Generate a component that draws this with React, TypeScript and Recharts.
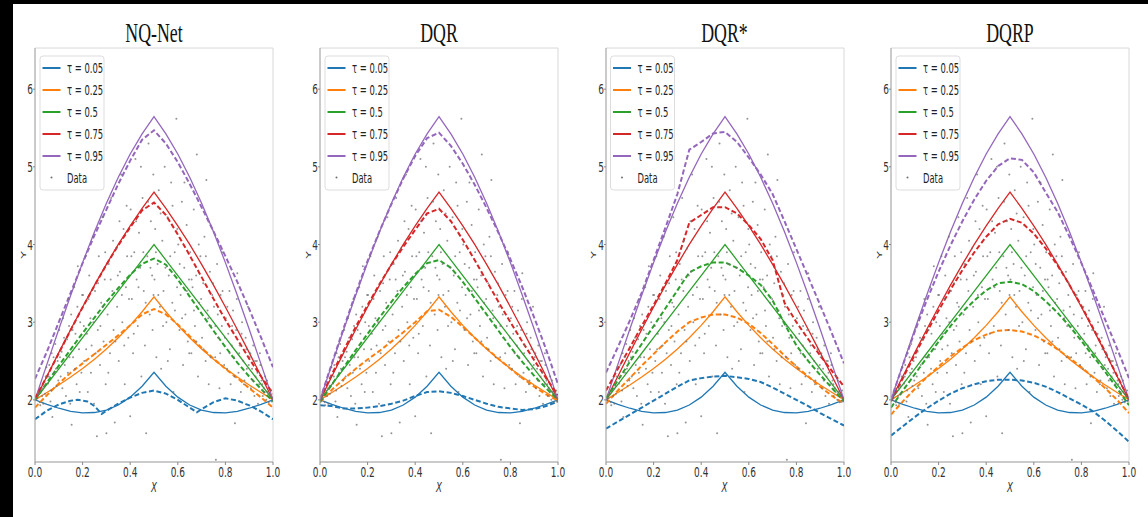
import React from 'react';
import { ComposedChart, Line, Scatter, XAxis, YAxis, ReferenceArea } from 'recharts';

// ---------------- data ----------------
const xGrid = [0, 0.05, 0.1, 0.15, 0.2, 0.25, 0.3, 0.35, 0.4, 0.45, 0.5, 0.55, 0.6, 0.65, 0.7, 0.75, 0.8, 0.85, 0.9, 0.95, 1];
const xTicks = [0, 0.2, 0.4, 0.6, 0.8, 1];
const yTicks = [2, 3, 4, 5, 6];
const titles = ['NQ-Net', 'DQR', 'DQR*', 'DQRP'];
const legendLabels = ['τ = 0.05', 'τ = 0.25', 'τ = 0.5', 'τ = 0.75', 'τ = 0.95'];
const colors = ['#1f77b4', '#ff7f0e', '#2ca02c', '#d62728', '#9467bd'];

// true quantile curves (solid)
const trueQ05 = [2.0, 1.943, 1.892, 1.853, 1.833, 1.837, 1.869, 1.934, 2.035, 2.175, 2.355, 2.175, 2.035, 1.934, 1.869, 1.837, 1.833, 1.853, 1.892, 1.943, 2.0];
const trueQ25 = [2.0, 2.095, 2.192, 2.294, 2.404, 2.523, 2.655, 2.799, 2.959, 3.134, 3.326, 3.134, 2.959, 2.799, 2.655, 2.523, 2.404, 2.294, 2.192, 2.095, 2.0];
const trueQ50 = [2.0, 2.2, 2.4, 2.6, 2.8, 3.0, 3.2, 3.4, 3.6, 3.8, 4.0, 3.8, 3.6, 3.4, 3.2, 3.0, 2.8, 2.6, 2.4, 2.2, 2.0];
const trueQ75 = [2.0, 2.305, 2.608, 2.906, 3.196, 3.477, 3.745, 4.001, 4.241, 4.466, 4.674, 4.466, 4.241, 4.001, 3.745, 3.477, 3.196, 2.906, 2.608, 2.305, 2.0];
const trueQ95 = [2.0, 2.457, 2.908, 3.347, 3.767, 4.163, 4.531, 4.866, 5.165, 5.425, 5.645, 5.425, 5.165, 4.866, 4.531, 4.163, 3.767, 3.347, 2.908, 2.457, 2.0];

// NQ-Net estimates (dashed)
const nqQ05X = [0, 0.05, 0.1, 0.15, 0.18, 0.22, 0.25, 0.28, 0.3, 0.35, 0.4, 0.45, 0.5, 0.55, 0.6, 0.65, 0.68, 0.7, 0.75, 0.8, 0.85, 0.9, 0.95, 1];
const nqQ05 = [1.75, 1.86, 1.94, 1.99, 2.0, 1.98, 1.92, 1.82, 1.86, 1.95, 2.03, 2.09, 2.12, 2.08, 2.0, 1.9, 1.84, 1.88, 1.97, 2.02, 1.99, 1.93, 1.85, 1.75];
const nqQ25 = [1.9, 2.06, 2.21, 2.35, 2.47, 2.59, 2.71, 2.83, 2.96, 3.1, 3.17, 3.1, 2.97, 2.82, 2.67, 2.53, 2.4, 2.28, 2.15, 2.03, 1.9];
const nqQ50 = [2.0, 2.22, 2.44, 2.65, 2.86, 3.06, 3.26, 3.44, 3.61, 3.75, 3.82, 3.74, 3.55, 3.33, 3.11, 2.89, 2.68, 2.48, 2.3, 2.14, 1.98];
const nqQ75 = [2.02, 2.3, 2.6, 2.9, 3.19, 3.47, 3.74, 3.99, 4.22, 4.44, 4.54, 4.38, 4.13, 3.86, 3.58, 3.3, 3.03, 2.78, 2.53, 2.3, 2.08];
const nqQ95 = [2.27, 2.62, 3.0, 3.38, 3.76, 4.12, 4.45, 4.78, 5.08, 5.35, 5.47, 5.3, 5.06, 4.78, 4.48, 4.17, 3.85, 3.52, 3.17, 2.8, 2.42];

// DQR estimates
const dqrQ05 = [1.93, 1.92, 1.89, 1.89, 1.9, 1.92, 1.95, 1.99, 2.05, 2.1, 2.11, 2.09, 2.05, 2.0, 1.95, 1.91, 1.89, 1.87, 1.88, 1.92, 1.98];
const dqrQ25 = [1.97, 2.13, 2.27, 2.4, 2.52, 2.63, 2.75, 2.87, 3.0, 3.14, 3.16, 3.07, 2.94, 2.8, 2.66, 2.53, 2.4, 2.28, 2.17, 2.07, 1.99];
const dqrQ50 = [1.97, 2.2, 2.42, 2.64, 2.85, 3.06, 3.26, 3.45, 3.62, 3.76, 3.8, 3.7, 3.52, 3.31, 3.1, 2.89, 2.68, 2.49, 2.31, 2.15, 2.0];
const dqrQ75 = [2.0, 2.33, 2.64, 2.94, 3.22, 3.49, 3.74, 3.97, 4.19, 4.4, 4.46, 4.3, 4.06, 3.8, 3.53, 3.26, 3.0, 2.75, 2.51, 2.28, 2.06];
const dqrQ95 = [2.0, 2.47, 2.93, 3.37, 3.79, 4.17, 4.52, 4.85, 5.14, 5.37, 5.44, 5.27, 5.04, 4.77, 4.47, 4.15, 3.81, 3.45, 3.06, 2.65, 2.2];

// DQR* estimates
const dqrsQ05 = [1.63, 1.72, 1.81, 1.9, 1.99, 2.08, 2.17, 2.25, 2.28, 2.3, 2.31, 2.29, 2.27, 2.23, 2.16, 2.08, 2.0, 1.92, 1.83, 1.75, 1.67];
const dqrsQ25 = [1.95, 2.12, 2.28, 2.44, 2.59, 2.74, 2.88, 3.0, 3.06, 3.1, 3.1, 3.06, 2.98, 2.86, 2.72, 2.57, 2.43, 2.3, 2.17, 2.05, 1.95];
const dqrsQ50 = [2.02, 2.25, 2.49, 2.72, 2.95, 3.18, 3.41, 3.64, 3.72, 3.77, 3.77, 3.7, 3.6, 3.48, 3.28, 2.98, 2.7, 2.5, 2.32, 2.15, 1.98];
const dqrsQ75 = [2.12, 2.4, 2.67, 2.95, 3.22, 3.5, 3.8, 4.28, 4.38, 4.48, 4.48, 4.4, 4.25, 4.07, 3.8, 3.25, 3.0, 2.78, 2.57, 2.37, 2.17];
const dqrsQ95 = [2.35, 2.68, 3.02, 3.38, 3.8, 4.22, 4.65, 5.22, 5.32, 5.43, 5.45, 5.32, 5.12, 4.9, 4.65, 4.3, 3.94, 3.58, 3.22, 2.85, 2.47];

// DQRP estimates
const dqrpQ05 = [1.54, 1.66, 1.78, 1.89, 1.99, 2.08, 2.15, 2.2, 2.24, 2.26, 2.26, 2.25, 2.22, 2.17, 2.1, 2.02, 1.94, 1.85, 1.73, 1.6, 1.46];
const dqrpQ25 = [1.81, 1.98, 2.14, 2.29, 2.43, 2.56, 2.67, 2.77, 2.84, 2.89, 2.9, 2.88, 2.83, 2.75, 2.65, 2.54, 2.42, 2.29, 2.15, 2.0, 1.83];
const dqrpQ50 = [1.9, 2.12, 2.33, 2.54, 2.75, 2.95, 3.13, 3.28, 3.41, 3.5, 3.52, 3.49, 3.4, 3.27, 3.12, 2.95, 2.76, 2.56, 2.36, 2.15, 1.93];
const dqrpQ75 = [1.98, 2.28, 2.58, 2.87, 3.15, 3.42, 3.67, 3.9, 4.1, 4.26, 4.33, 4.28, 4.14, 3.95, 3.73, 3.48, 3.21, 2.92, 2.62, 2.31, 2.0];
const dqrpQ95 = [2.0, 2.45, 2.88, 3.28, 3.65, 3.99, 4.3, 4.58, 4.82, 5.01, 5.11, 5.09, 4.93, 4.67, 4.42, 4.1, 3.76, 3.4, 3.03, 2.66, 2.28];

// observed data (scatter)
const dataX = [
  0.01, 0.02, 0.025, 0.03, 0.04, 0.045, 0.015, 0.035, 0.048,
  0.055, 0.06, 0.065, 0.07, 0.073, 0.08, 0.085, 0.09, 0.095,
  0.102, 0.108, 0.112, 0.118, 0.125, 0.13, 0.135, 0.14, 0.145, 0.148,
  0.152, 0.154, 0.16, 0.165, 0.17, 0.175, 0.18, 0.185, 0.19, 0.195,
  0.202, 0.207, 0.212, 0.218, 0.222, 0.228, 0.233, 0.238, 0.243, 0.248,
  0.252, 0.26, 0.264, 0.268, 0.273, 0.278, 0.283, 0.288, 0.293, 0.297,
  0.3, 0.305, 0.31, 0.315, 0.32, 0.325, 0.33, 0.335, 0.34, 0.345,
  0.352, 0.357, 0.362, 0.367, 0.372, 0.377, 0.382, 0.387, 0.392, 0.4,
  0.402, 0.407, 0.412, 0.417, 0.422, 0.427, 0.432, 0.437, 0.442, 0.447,
  0.452, 0.457, 0.462, 0.467, 0.472, 0.477, 0.482, 0.487, 0.492, 0.497, 0.494,
  0.502, 0.505, 0.51, 0.515, 0.52, 0.525, 0.53, 0.535, 0.54, 0.545,
  0.552, 0.557, 0.562, 0.567, 0.572, 0.577, 0.582, 0.587, 0.594, 0.597,
  0.602, 0.607, 0.612, 0.617, 0.622, 0.627, 0.632, 0.637, 0.642, 0.647,
  0.652, 0.657, 0.662, 0.667, 0.672, 0.677, 0.68, 0.685, 0.69, 0.695,
  0.702, 0.707, 0.712, 0.717, 0.72, 0.725, 0.73, 0.735, 0.74, 0.745,
  0.752, 0.757, 0.76, 0.765, 0.77, 0.775, 0.78, 0.785, 0.79, 0.795,
  0.802, 0.807, 0.812, 0.817, 0.822, 0.827, 0.832, 0.837, 0.84, 0.845,
  0.85, 0.855, 0.86, 0.865, 0.87, 0.875, 0.88, 0.885, 0.89, 0.895,
  0.902, 0.907, 0.912, 0.917, 0.922, 0.927, 0.932, 0.937, 0.942, 0.947,
  0.952, 0.957, 0.962, 0.967, 0.972, 0.977, 0.982, 0.987, 0.992, 0.997,
  0.005, 0.012, 0.022, 0.033, 0.042, 0.058, 0.068, 0.078, 0.088, 0.098,
  0.105, 0.115, 0.122, 0.138, 0.143, 0.158, 0.168, 0.178, 0.188, 0.198,
  0.205, 0.215, 0.225, 0.235, 0.245, 0.255, 0.265, 0.275, 0.285, 0.295,
  0.308, 0.318, 0.328, 0.338, 0.348, 0.355, 0.365, 0.375, 0.385, 0.395,
  0.405, 0.415, 0.425, 0.435, 0.445, 0.455, 0.465, 0.475, 0.485, 0.498,
  0.508, 0.518, 0.528, 0.538, 0.548, 0.558, 0.568, 0.578, 0.588, 0.598,
  0.608, 0.618, 0.628, 0.638, 0.648, 0.658, 0.668, 0.678, 0.688, 0.698,
  0.708, 0.718, 0.728, 0.738, 0.748, 0.758, 0.768, 0.778, 0.788, 0.798,
  0.808, 0.818, 0.828, 0.838, 0.848, 0.858, 0.868, 0.878, 0.888, 0.898,
  0.905, 0.915, 0.925, 0.935, 0.945, 0.955, 0.965, 0.975, 0.985, 0.995,
];
const dataY = [
  2.02, 1.97, 2.12, 2.05, 2.18, 2.3, 2.08, 1.95, 2.42,
  2.21, 2.45, 1.98, 2.6, 1.78, 2.35, 2.72, 2.18, 2.5,
  2.9, 2.3, 2.62, 3.05, 2.45, 2.05, 2.78, 3.3, 2.55, 1.95,
  3.1, 1.68, 2.55, 3.45, 2.85, 2.2, 3.72, 2.65, 3.0, 2.35,
  3.35, 2.5, 3.85, 2.85, 2.1, 3.6, 3.05, 2.7, 4.1, 1.95,
  3.4, 1.53, 2.9, 3.85, 2.45, 3.25, 4.35, 2.75, 3.55, 2.2,
  1.57, 3.1, 3.75, 2.6, 4.6, 3.4, 2.9, 1.71, 3.95, 3.2,
  2.5, 3.65, 4.9, 3.0, 4.2, 2.2, 3.45, 3.85, 2.8, 1.79,
  4.45, 3.3, 2.6, 3.9, 5.1, 3.55, 2.95, 4.15, 3.7, 2.3,
  4.6, 3.4, 2.7, 1.57, 3.85, 5.3, 3.1, 4.3, 3.6, 4.9, 2.9,
  3.55, 4.2, 2.55, 3.75, 4.7, 3.2, 2.4, 4.05, 3.4, 5.0,
  3.0, 4.35, 3.6, 2.65, 4.8, 3.25, 2.1, 3.9, 5.62, 3.45,
  4.0, 2.9, 3.35, 4.55, 2.45, 3.7, 3.1, 4.25, 2.75, 3.55,
  3.9, 2.6, 3.45, 4.45, 2.95, 3.6, 5.16, 2.3, 3.25, 3.85,
  2.8, 3.5, 4.1, 2.5, 4.83, 3.15, 2.2, 3.65, 2.95, 3.35,
  3.2, 2.55, 1.23, 3.75, 2.8, 2.15, 3.35, 2.95, 3.9, 2.45,
  3.05, 2.4, 2.85, 3.4, 2.2, 2.7, 3.15, 2.55, 1.7, 2.9,
  3.63, 2.35, 2.7, 2.1, 3.0, 2.5, 2.25, 2.8, 2.4, 3.2,
  2.55, 2.15, 2.4, 2.7, 2.05, 2.3, 2.5, 1.95, 2.2, 2.45,
  2.25, 2.05, 2.15, 2.3, 2.0, 2.1, 1.97, 2.05, 2.12, 2.02,
  2.0, 2.06, 1.93, 2.15, 2.08, 2.3, 2.12, 2.55, 2.4, 2.25,
  2.55, 2.15, 2.8, 2.35, 2.95, 2.9, 2.4, 3.2, 2.1, 3.35,
  2.95, 2.65, 3.3, 2.35, 3.0, 2.6, 3.5, 2.95, 3.2, 3.9,
  2.35, 3.55, 4.05, 2.75, 3.6, 4.3, 3.35, 2.7, 4.5, 3.3,
  3.85, 2.85, 4.3, 3.45, 5.0, 3.9, 3.25, 4.55, 3.7, 3.35,
  3.9, 3.35, 4.4, 2.95, 3.7, 2.5, 3.85, 4.5, 3.15, 4.2,
  3.75, 3.05, 4.8, 3.4, 2.6, 3.55, 3.15, 2.75, 4.0, 3.3,
  2.65, 3.85, 3.05, 2.55, 3.5, 2.95, 3.1, 2.6, 3.4, 2.8,
  3.2, 2.6, 2.95, 2.3, 3.3, 2.6, 2.85, 2.2, 2.65, 2.45,
  2.6, 2.25, 2.5, 2.35, 2.6, 2.2, 2.1, 2.25, 2.08, 1.98,
];

// ---------------- helpers ----------------
const toPts = (xs: number[], ys: number[]) => xs.map((x, i) => ({ x, y: ys[i] }));
const scatterPts = toPts(dataX, dataY);
const trueCurves = [trueQ05, trueQ25, trueQ50, trueQ75, trueQ95].map((ys) => toPts(xGrid, ys));

const panelEstimates = [
  [toPts(nqQ05X, nqQ05), toPts(xGrid, nqQ25), toPts(xGrid, nqQ50), toPts(xGrid, nqQ75), toPts(xGrid, nqQ95)],
  [dqrQ05, dqrQ25, dqrQ50, dqrQ75, dqrQ95].map((ys) => toPts(xGrid, ys)),
  [dqrsQ05, dqrsQ25, dqrsQ50, dqrsQ75, dqrsQ95].map((ys) => toPts(xGrid, ys)),
  [dqrpQ05, dqrpQ25, dqrpQ50, dqrpQ75, dqrpQ95].map((ys) => toPts(xGrid, ys)),
];

const plotLefts = [35, 320, 605.5, 891];
const PLOT_W = 238;
const Y_AXIS_W = 30;
const CHART_W = Y_AXIS_W + PLOT_W + 10;
const CHART_H = 517;
const SX = 0.62;

const XTick = (props: any) => {
  const { x, y, payload } = props;
  return (
    <text transform={`translate(${x},${y}) scale(${SX},1)`} textAnchor="middle" dy="0.71em" fontSize={14.5} fontFamily="DejaVu Sans" fill="#333">
      {Number(payload.value).toFixed(1)}
    </text>
  );
};
const YTick = (props: any) => {
  const { x, y, payload } = props;
  return (
    <text transform={`translate(${x},${y}) scale(${SX},1)`} textAnchor="end" dy="0.36em" fontSize={14.5} fontFamily="DejaVu Sans" fill="#333">
      {String(payload.value)}
    </text>
  );
};

const Dot = (p: any) => <circle cx={p.cx} cy={p.cy} r={1} fill="#707070" fillOpacity={0.75} />;

function Panel({ idx }: { idx: number }) {
  const left = plotLefts[idx] - Y_AXIS_W;
  const est = panelEstimates[idx];
  return (
    <div style={{ position: 'absolute', left, top: 0, width: CHART_W, height: CHART_H }}>
      <ComposedChart width={CHART_W} height={CHART_H} margin={{ top: 48, right: 10, bottom: 0, left: 0 }}>
        <XAxis type="number" dataKey="x" domain={[0, 1]} ticks={xTicks} height={55} allowDataOverflow
          axisLine={{ stroke: '#aaa' }} tickLine={{ stroke: '#888' }} tickSize={3} tickMargin={2} tick={<XTick />} interval={0} />
        <YAxis type="number" dataKey="y" domain={[1.2, 6.53]} ticks={yTicks} width={Y_AXIS_W} allowDataOverflow
          axisLine={{ stroke: '#aaa' }} tickLine={{ stroke: '#888' }} tickSize={2} tickMargin={0} tick={<YTick />} interval={0} />
        <ReferenceArea x1={0} x2={1} y1={1.2} y2={6.53} fill="#fff" fillOpacity={0} stroke="#d8d8d8" strokeWidth={1} />
        <Scatter data={scatterPts} shape={<Dot />} isAnimationActive={false} />
        {trueCurves.map((d, i) => (
          <Line key={'t' + i} data={d} dataKey="y" type="linear" stroke={colors[i]} strokeWidth={1.3} dot={false} activeDot={false} isAnimationActive={false} />
        ))}
        {est.map((d, i) => (
          <Line key={'e' + i} data={d} dataKey="y" type="linear" stroke={colors[i]} strokeWidth={2} strokeDasharray="5 2.6" dot={false} activeDot={false} isAnimationActive={false} />
        ))}
      </ComposedChart>
    </div>
  );
}

function Overlay() {
  const rowYs = [68, 90, 112, 134, 156];
  return (
    <svg width={1148} height={517} style={{ position: 'absolute', left: 0, top: 0, pointerEvents: 'none' }}>
      <rect x={0} y={0} width={1148} height={4} fill="#000" />
      <rect x={0} y={0} width={13} height={517} fill="#000" />
      {plotLefts.map((L, i) => (
        <g key={i}>
          <text transform={`translate(${L + PLOT_W / 2},42) scale(0.66,1)`} textAnchor="middle" fontSize={27} fontFamily="Liberation Serif" fill="#111">
            {titles[i]}
          </text>
          <text transform={`translate(${L + PLOT_W / 2},492) scale(${SX},1)`} textAnchor="middle" fontSize={14} fontStyle="italic" fontFamily="DejaVu Sans" fill="#333">
            X
          </text>
          <text transform={`translate(${L - 9.5},255) rotate(-90) scale(1,${SX})`} textAnchor="middle" fontSize={12.5} fontFamily="DejaVu Sans" fill="#333">
            Y
          </text>
          <rect x={L + 5} y={56} width={64} height={134} rx={3} fill="#fff" fillOpacity={0.85} stroke="#ddd" strokeWidth={1} />
          {legendLabels.map((lab, j) => (
            <g key={j}>
              <line x1={L + 7.5} x2={L + 25.5} y1={rowYs[j]} y2={rowYs[j]} stroke={colors[j]} strokeWidth={2} />
              <text transform={`translate(${L + 32},${rowYs[j]}) scale(0.6,1)`} dy="0.36em" fontSize={14} fontFamily="DejaVu Sans" fill="#222">
                {lab}
              </text>
            </g>
          ))}
          <circle cx={L + 16.5} cy={177.5} r={1} fill="#707070" />
          <text transform={`translate(${L + 32},177.5) scale(0.6,1)`} dy="0.36em" fontSize={14} fontFamily="DejaVu Sans" fill="#222">
            Data
          </text>
        </g>
      ))}
    </svg>
  );
}

export default function App() {
  return (
    <div style={{ position: 'absolute', left: 0, top: 0, width: 1148, height: 517, background: '#fff', overflow: 'hidden' }}>
      {[0, 1, 2, 3].map((i) => (
        <Panel key={i} idx={i} />
      ))}
      <Overlay />
    </div>
  );
}
